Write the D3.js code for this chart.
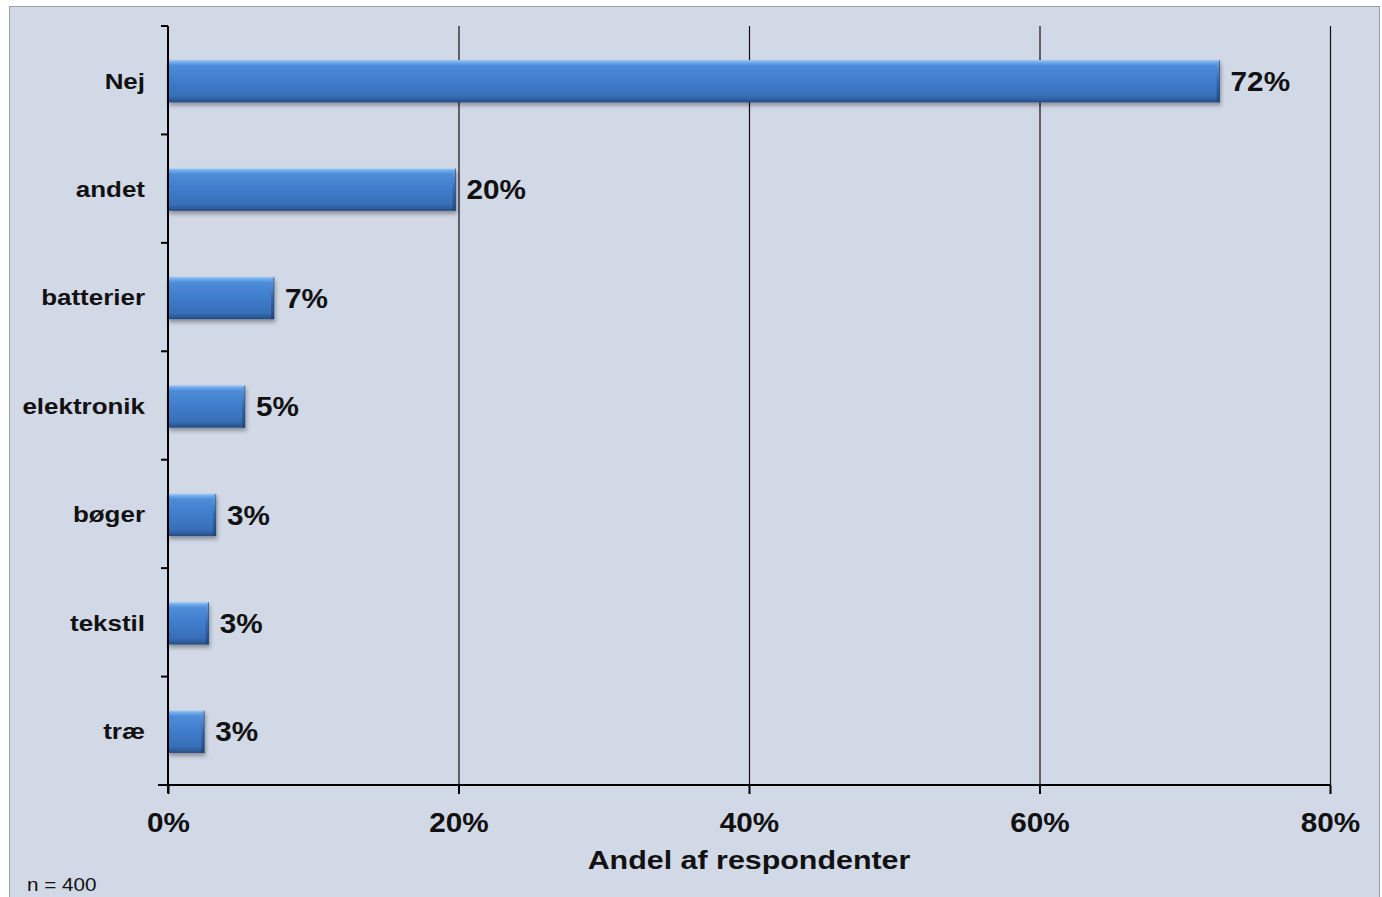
<!DOCTYPE html>
<html><head><meta charset="utf-8">
<script src="https://cdn.jsdelivr.net/npm/d3@7"></script>
<style>
html,body{margin:0;padding:0;background:#fff;}
svg{display:block;font-family:"Liberation Sans",Arial,sans-serif;}
</style></head><body>
<svg id="c" width="1382" height="897"></svg>
<script>
const categories = ["Nej","andet","batterier","elektronik","bøger","tekstil","træ"];
const values = [72.4, 19.8, 7.3, 5.3, 3.3, 2.8, 2.5];
const valueLabels = ["72%","20%","7%","5%","3%","3%","3%"];
const xTicks = [0, 20, 40, 60, 80];
const xTitle = "Andel af respondenter";
const note = "n = 400";

const svg = d3.select("#c");
const W = 1382, H = 897;
const m = {left:168, right:1330, top:26, bottom:785};

svg.append("rect").attr("x",9.5).attr("y",6.5).attr("width",1370).attr("height",H).attr("fill","#d1d8e6").attr("stroke","#9aa0aa").attr("stroke-width",1);

const defs = svg.append("defs");
const g = defs.append("linearGradient").attr("id","barg").attr("x1",0).attr("y1",0).attr("x2",0).attr("y2",1);
[[0,"#9ccaf6"],[0.05,"#72acec"],[0.13,"#4d8cd9"],[0.5,"#3f7ccb"],[0.85,"#376fb8"],[0.95,"#2c5a98"],[1,"#24497c"]].forEach(([o,c])=>g.append("stop").attr("offset",o).attr("stop-color",c));
const ge = defs.append("linearGradient").attr("id","endg").attr("x1",0).attr("y1",0).attr("x2",0).attr("y2",1);
[[0,"#6a9fdc"],[0.5,"#2f62a8"],[1,"#1f4475"]].forEach(([o,c])=>ge.append("stop").attr("offset",o).attr("stop-color",c));
const f = defs.append("filter").attr("id","sh").attr("x","-5%").attr("y","-20%").attr("width","115%").attr("height","160%");
f.append("feGaussianBlur").attr("in","SourceAlpha").attr("stdDeviation",2);
f.append("feOffset").attr("dx",1).attr("dy",3).attr("result","ob");
f.append("feComponentTransfer").append("feFuncA").attr("type","linear").attr("slope",0.35);
const fm = f.append("feMerge"); fm.append("feMergeNode"); fm.append("feMergeNode").attr("in","SourceGraphic");

const x = d3.scaleLinear().domain([0,80]).range([m.left, m.right]);
const y = d3.scaleBand().domain(categories).range([m.top, m.bottom]).paddingInner(0.61).paddingOuter(0.305);
const yb = d3.scaleBand().domain(categories).range([m.top, m.bottom]);

svg.append("g").selectAll("line").data(xTicks.slice(1)).join("line")
  .attr("x1",d=>x(d)+0.5).attr("x2",d=>x(d)+0.5).attr("y1",m.top).attr("y2",m.bottom)
  .attr("stroke","#111").attr("stroke-width",1.2);

const bars = svg.append("g");
categories.forEach((c,i)=>{
  const bx = x(0), by = y(c)+1, bw = x(values[i]) - x(0), bh = y.bandwidth();
  const bg = bars.append("g").attr("filter","url(#sh)");
  bg.append("rect").attr("x",bx).attr("y",by).attr("width",bw).attr("height",bh).attr("fill","url(#barg)");
  bg.append("rect").attr("x",bx+bw-3).attr("y",by+2).attr("width",3).attr("height",bh-2).attr("fill","url(#endg)").attr("opacity",0.8);
  bg.append("rect").attr("x",bx+bw-0.5).attr("y",by).attr("width",0.8).attr("height",bh).attr("fill","#1f3f6a").attr("opacity",0.7);
});

const stretch = (sel, tx, ty, s) => sel.attr("transform",(d,i)=>`translate(${tx(d,i)},${ty(d,i)}) scale(${s},1)`);

stretch(svg.append("g").selectAll("text").data(categories).join("text")
  .attr("dominant-baseline","middle").attr("font-size",27).attr("font-weight","bold").attr("fill","#111")
  .text((d,i)=>valueLabels[i]), (d,i)=>x(values[i])+11, d=>y(d)+y.bandwidth()/2+3.5, 1.1);

svg.append("line").attr("x1",m.left).attr("x2",m.left).attr("y1",m.top).attr("y2",m.bottom+8).attr("stroke","#000").attr("stroke-width",2);
const yTickPos = d3.range(categories.length+1).map(i=>m.top + i*yb.step());
svg.append("g").selectAll("line").data(yTickPos).join("line")
  .attr("x1",m.left-7).attr("x2",m.left).attr("y1",d=>d).attr("y2",d=>d).attr("stroke","#000").attr("stroke-width",2);
stretch(svg.append("g").selectAll("text").data(categories).join("text")
  .attr("text-anchor","end").attr("dominant-baseline","middle")
  .attr("font-size",22).attr("font-weight","bold").attr("fill","#111").text(d=>d),
  ()=>m.left-23, d=>yb(d)+yb.bandwidth()/2+2.5, 1.18);

const xAxis = d3.axisBottom(x).tickValues(xTicks).tickSize(9).tickFormat(d=>d+"%");
const xa = svg.append("g").attr("transform",`translate(0,${m.bottom})`).call(xAxis);
xa.select(".domain").attr("stroke","#000").attr("stroke-width",2).attr("d",`M${m.left-10},0H${m.right}`);
xa.selectAll(".tick line").attr("stroke","#000").attr("stroke-width",2);
xa.selectAll(".tick text").attr("font-size",27).attr("font-weight","bold").attr("fill","#111").attr("dy",0).attr("y",0)
  .attr("transform","translate(0,47) scale(1.1,1)")
  .attr("font-family","'Liberation Sans',Arial,sans-serif");

svg.append("text").attr("text-anchor","middle").attr("transform",`translate(${(m.left+m.right)/2},869) scale(1.17,1)`)
  .attr("font-size",26).attr("font-weight","bold").attr("fill","#111").text(xTitle);
svg.append("text").attr("transform","translate(27,891) scale(1.15,1)").attr("font-size",18).attr("fill","#111").text(note);
</script></body></html>
